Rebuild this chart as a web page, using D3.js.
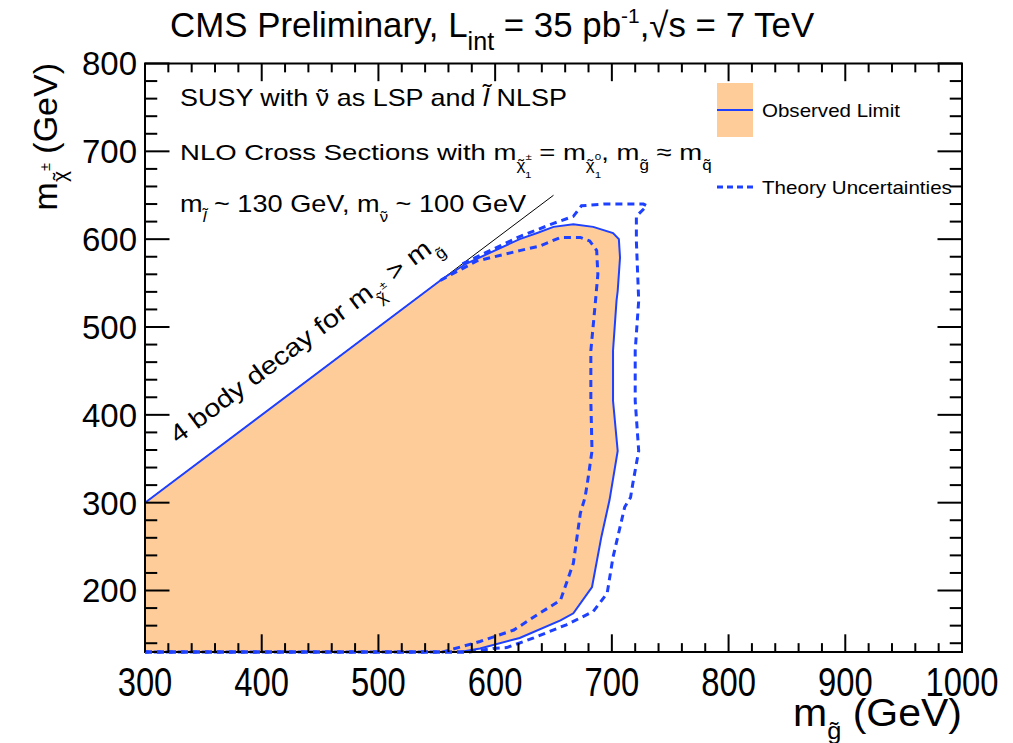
<!DOCTYPE html>
<html><head><meta charset="utf-8">
<script src="https://cdn.jsdelivr.net/npm/d3@7"></script>
<style>
body{margin:0;background:#fff}
svg{display:block}
text{font-family:"Liberation Sans",Arial,Helvetica,sans-serif;fill:#000}
</style>
</head><body>
<svg id="c" width="1013" height="743"></svg>
<script>
// ---------------- data ----------------
const xTicks = [300, 400, 500, 600, 700, 800, 900, 1000];
const yTicks = [200, 300, 400, 500, 600, 700, 800];
const xDomain = [300, 1000];
const yDomain = [130, 800];
const diagonal = [[300, 300], [650, 650]];
// observed limit contour (m_gluino, m_chargino)
const observed = [[300,130],[300,300],[555,555],[575,572],[621,600],[636,607],[650,614],[667,617],[684,614],[701,607],[706,600],[707,579],[705,541],[704,530],[701,473],[701,416],[705,359],[698,303],[691,261],[683,204],[667,174],[656,166],[621,146],[587,134],[570,130]];
// theory uncertainty contours
const theoryMinus = [[553,553],[584,575],[621,587],[638,592],[656,602],[673,602],[681,598],[687,587],[688,560],[686,530],[682,473],[682,416],[683,359],[679,322],[677,306],[673,288],[667,231],[656,189],[638,174],[616,155],[587,142],[555,130],[300,130]];
const theoryPlus = [[572,572],[621,603],[650,618],[667,626],[674,638],[693,640],[727,640],[730,638],[721,626],[721,598],[723,530],[720,473],[720,416],[723,359],[718,322],[716,306],[711,295],[701,238],[696,197],[684,176],[661,161],[633,146],[610,135],[598,134],[578,130],[300,130]];
const legendLabels = ["Observed Limit", "Theory Uncertainties"];

// ---------------- layout ----------------
const L = 145, R = 962, T = 63.5, B = 652;
const FILL = "#fecc98", BLUE = "#1e40ff";
const svg = d3.select("#c");
const xS = d3.scaleLinear().domain(xDomain).range([L, R]);
const yS = d3.scaleLinear().domain(yDomain).range([B, T]);
const lineGen = d3.line().x(d => xS(d[0])).y(d => yS(d[1]));

// fill
svg.append("path").attr("d", lineGen(observed) + "Z").attr("fill", FILL).attr("stroke", "none");

// diagonal and contours
svg.append("path").attr("d", lineGen(diagonal)).attr("stroke", "#000").attr("stroke-width", 1).attr("fill", "none");
svg.append("path").attr("d", lineGen(observed.slice(1).concat([[300,130]])))
  .attr("stroke", BLUE).attr("stroke-width", 2).attr("fill", "none");
[theoryMinus, theoryPlus].forEach(c => {
  svg.append("path").attr("d", lineGen(c)).attr("stroke", BLUE).attr("stroke-width", 3)
    .attr("stroke-dasharray", "7,5").attr("fill", "none");
});

// frame
svg.append("rect").attr("x", L).attr("y", T).attr("width", R - L).attr("height", B - T)
  .attr("fill", "none").attr("stroke", "#000").attr("stroke-width", 2);
svg.append("path").attr("d", lineGen([[300,130],[575,130]])).attr("stroke", BLUE).attr("stroke-width", 3)
  .attr("stroke-dasharray", "7,5").attr("fill", "none");

// tick labels
svg.selectAll("text.xl").data(xTicks).join("text").attr("class", "xl")
  .attr("transform", d => `translate(${xS(d)},${B + 44}) scale(0.82,1)`)
  .attr("text-anchor", "middle").attr("font-size", 40).text(d => d);
svg.selectAll("text.ylab").data(yTicks).join("text").attr("class", "ylab")
  .attr("x", L - 8).attr("y", d => yS(d)).attr("dy", "0.36em")
  .attr("text-anchor", "end").attr("font-size", 33).text(d => d);

// ---------------- rich text helpers ----------------
function rich(parent, parts, size, anchor) {
  const t = parent.append("text").attr("font-size", size);
  if (anchor) t.attr("text-anchor", anchor);
  let prev = 0, pending = 0;
  parts.forEach(p => {
    const o = p.o || 0, s = p.s || 1;
    const ts = t.append("tspan").text(p.t).attr("font-size", size * s)
      .attr("dy", ((o - prev) * size).toFixed(2));
    const dx = (p.dx || 0) + pending;
    if (dx) ts.attr("dx", (dx * size).toFixed(2));
    if (p.i) ts.attr("font-style", "italic");
    pending = p.post || 0;
    prev = o;
  });
  return t;
}
function tl(ch, o, s, cw, opt = {}) {
  const tw = 0.333, rise = opt.rise || 0, shift = opt.shift || 0;
  return [
    {t: ch, o, s, i: opt.i},
    {t: "˜", o: o - rise * s, s, dx: -(cw * s + tw * s) / 2 + shift * s, post: (cw * s - tw * s) / 2 - shift * s}
  ];
}
function placed(px, py, parts, size, width, opts = {}) {
  const g = svg.append("g");
  const t = rich(g, parts, size, opts.anchor);
  let sx = 1;
  if (width) { sx = width / t.node().getBBox().width; }
  g.attr("transform", `translate(${px},${py}) rotate(${opts.rot || 0}) scale(${sx},1)`);
  return g;
}
const SUB = 0.42, SS = 0.62;
const chiPM = tl("χ", SUB, SS, 0.52).concat([{t:"±", o:-0.02, s:0.42},{t:"1", o:0.8, s:0.42, dx:-0.245}]);
const chi0 = tl("χ", SUB, SS, 0.52).concat([{t:"0", o:-0.02, s:0.42},{t:"1", o:0.8, s:0.42, dx:-0.235}]);

placed(170, 37, [{t:"CMS Preliminary, L"},{t:"int", o:0.38, s:0.72},{t:" = 35 pb", o:0},{t:"-1", o:-0.4, s:0.6},{t:",√s = 7 TeV", o:0}], 35, 645);
placed(57, 63, [{t:"m"}].concat(tl("χ", 0.3, 0.62, 0.52), [{t:"±", o:-0.2, s:0.42},{t:" (GeV)", o:0}]), 34, null, {anchor:"end", rot:-90});
placed(962, 726, [{t:"m"}].concat(tl("g", 0.35, 0.62, 0.556), [{t:" (GeV)", o:0}]), 38, 169, {anchor:"end"});

placed(180, 106, [{t:"SUSY with "}].concat(tl("ν", 0, 1, 0.5), [{t:" as LSP and "}], tl("l", 0, 1, 0.26, {i:true, rise:0.2, shift:0.06}), [{t:" NLSP"}]), 23, 387);
placed(180, 160, [{t:"NLO Cross Sections with m"}].concat(chiPM, [{t:" = m", o:0}], chi0,
  [{t:", m", o:0}], tl("g", SUB, SS, 0.556), [{t:" ≈ m", o:0}], tl("q", SUB, SS, 0.556)), 23, 532);
placed(180, 212, [{t:"m"}].concat(tl("l", SUB, SS, 0.26, {i:true, rise:0.2, shift:0.06}), [{t:" ~ 130 GeV, m", o:0}], tl("ν", SUB, SS, 0.5), [{t:" ~ 100 GeV", o:0}]), 23, 347);

{
  const ang = Math.atan2(yS(650) - yS(300), xS(650) - xS(300)) * 180 / Math.PI;
  const rad = ang * Math.PI / 180;
  const d0 = 342, off = 27;
  const nx = Math.sin(rad), ny = -Math.cos(rad);
  const px = xS(d0) + off * nx, py = yS(d0) + off * ny;
  placed(px, py, [{t:"4 body decay for  m"}].concat(tl("χ", SUB, SS, 0.52), [{t:"±", o:-0.02, s:0.42},{t:"  > m", o:0}], tl("g", SUB, SS, 0.556)), 25, 330, {rot: ang});
}

// legend
svg.append("rect").attr("x", 717).attr("y", 83).attr("width", 36).attr("height", 54).attr("fill", FILL);
svg.append("line").attr("x1", 717).attr("x2", 753).attr("y1", 110).attr("y2", 110).attr("stroke", BLUE).attr("stroke-width", 2);
svg.append("line").attr("x1", 717).attr("x2", 753).attr("y1", 187).attr("y2", 187).attr("stroke", BLUE).attr("stroke-width", 3).attr("stroke-dasharray", "6,4");
placed(762, 117, [{t:legendLabels[0]}], 18, 138);
placed(762, 194, [{t:legendLabels[1]}], 18, 190);

// ticks inside on all four sides (major 100, minor 20), drawn last
const XT = 17.7, YT = 24.5;
const xAll = d3.range(300, 1001, 20);
const yAll = d3.range(140, 801, 20);
const isMajor = v => v % 100 === 0;
xAll.forEach(v => {
  const px = xS(v), h = isMajor(v) ? XT : XT / 2;
  svg.append("line").attr("x1", px).attr("x2", px).attr("y1", B).attr("y2", B - h).attr("stroke", "#000").attr("stroke-width", 2);
  svg.append("line").attr("x1", px).attr("x2", px).attr("y1", T).attr("y2", T + h).attr("stroke", "#000").attr("stroke-width", 2);
});
yAll.forEach(v => {
  const py = yS(v), w = isMajor(v) ? YT : YT / 2;
  svg.append("line").attr("x1", L).attr("x2", L + w).attr("y1", py).attr("y2", py).attr("stroke", "#000").attr("stroke-width", 2);
  svg.append("line").attr("x1", R).attr("x2", R - w).attr("y1", py).attr("y2", py).attr("stroke", "#000").attr("stroke-width", 2);
});
</script>
</body></html>
